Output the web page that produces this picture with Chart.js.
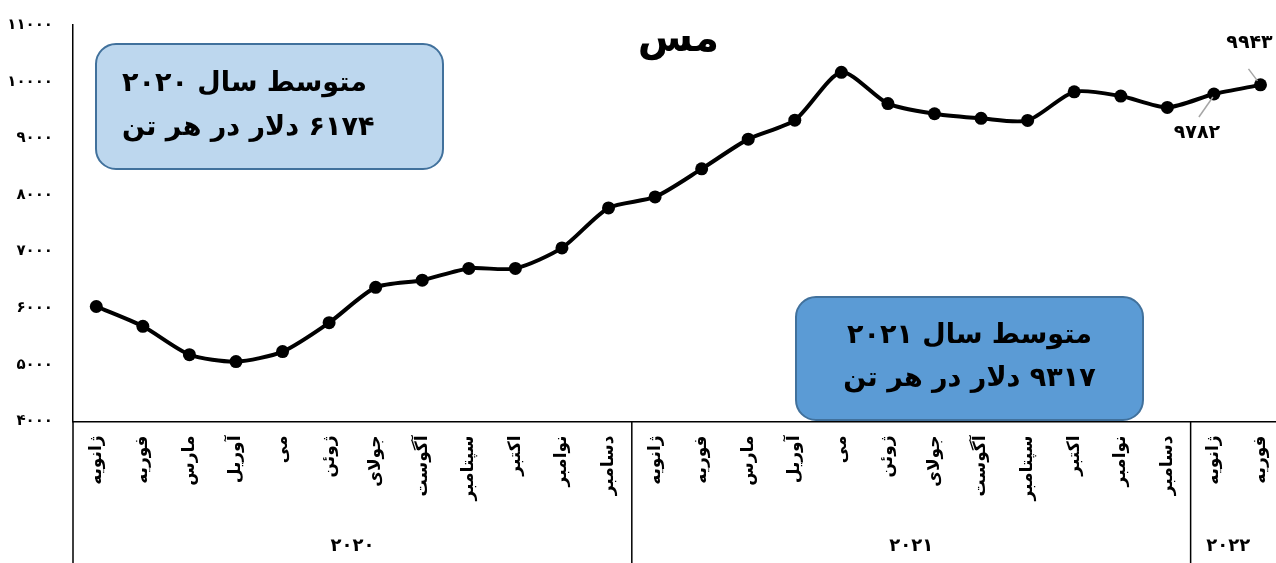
<!DOCTYPE html>
<html>
<head>
<meta charset="utf-8">
<script src="https://cdn.jsdelivr.net/npm/chart.js@4.4.1/dist/chart.umd.min.js"></script>
<style>
  html, body { margin: 0; padding: 0; background: #fff; overflow: hidden; }
  #wrap { width: 1295px; height: 563px; }
</style>
</head>
<body>
<div id="wrap"><canvas id="copperChart" width="1295" height="563"></canvas></div>
<script>
// ماه ها (از ژانویه ۲۰۲۰ تا فوریه ۲۰۲۲)
const months = [
  'ژانویه', 'فوریه', 'مارس', 'آوریل', 'می', 'ژوئن', 'جولای', 'آگوست', 'سپتامبر', 'اکتبر', 'نوامبر', 'دسامبر',
  'ژانویه', 'فوریه', 'مارس', 'آوریل', 'می', 'ژوئن', 'جولای', 'آگوست', 'سپتامبر', 'اکتبر', 'نوامبر', 'دسامبر',
  'ژانویه', 'فوریه'
];
const years = ['۲۰۲۰', '۲۰۲۱', '۲۰۲۲'];
const monthsPerYear = [12, 12, 2];

// قیمت مس (دلار در هر تن)
const copperPrice = [
  6030, 5680, 5180, 5058, 5235, 5745, 6368, 6495, 6703, 6703, 7065, 7770,
  7965, 8460, 8985, 9320, 10165, 9612, 9433, 9352, 9315, 9820, 9745, 9545,
  9782, 9943
];

const yTicks = [4000, 5000, 6000, 7000, 8000, 9000, 10000, 11000];
const chartTitle = 'مس';
const labelledPoints = [24, 25]; // نقاط دارای برچسب مقدار

const avgBoxes = [
  { lines: ['متوسط سال ۲۰۲۰', '۶۱۷۴ دلار در هر تن'], fill: '#BDD7EE' },
  { lines: ['متوسط سال ۲۰۲۱', '۹۳۱۷ دلار در هر تن'], fill: '#5B9BD5' }
];

const FONT = '"DejaVu Sans", sans-serif';
const toFa = (v) => String(v).replace(/\d/g, d => '۰۱۲۳۴۵۶۷۸۹'[d]);

function roundRect(ctx, x, y, w, h, r) {
  ctx.beginPath();
  ctx.moveTo(x + r, y);
  ctx.arcTo(x + w, y, x + w, y + h, r);
  ctx.arcTo(x + w, y + h, x, y + h, r);
  ctx.arcTo(x, y + h, x, y, r);
  ctx.arcTo(x, y, x + w, y, r);
  ctx.closePath();
}

// خطوط جداکننده سال ها، برچسب سال ها، عنوان، کادرها و برچسب مقادیر
const extrasPlugin = {
  id: 'extras',
  afterDraw(chart) {
    const ctx = chart.ctx;
    const area = chart.chartArea;
    const xs = chart.scales.x;
    const H = chart.height;
    ctx.save();

    // جدول محور افقی
    ctx.strokeStyle = '#000';
    ctx.lineWidth = 1.5;
    ctx.beginPath();
    ctx.moveTo(area.left, area.bottom);
    ctx.lineTo(area.left, H);
    let start = 0;
    const bounds = [];
    monthsPerYear.forEach((n) => {
      const end = start + n;
      const x0 = start === 0 ? area.left : (xs.getPixelForValue(start - 1) + xs.getPixelForValue(start)) / 2;
      const x1 = end >= months.length ? area.right : (xs.getPixelForValue(end - 1) + xs.getPixelForValue(end)) / 2;
      bounds.push([x0, x1]);
      if (end < months.length) {
        ctx.moveTo(x1, area.bottom);
        ctx.lineTo(x1, H);
      }
      start = end;
    });
    ctx.stroke();

    ctx.fillStyle = '#000';
    ctx.font = 'bold 18px ' + FONT;
    ctx.textAlign = 'center';
    ctx.textBaseline = 'middle';
    years.forEach((y, i) => {
      ctx.fillText(y, (bounds[i][0] + bounds[i][1]) / 2 - (i === 2 ? 9 : 0), 546);
    });

    // عنوان
    ctx.font = 'bold 40px ' + FONT;
    ctx.fillText(chartTitle, (area.left + area.right) / 2, 41);

    // کادرهای متوسط سالانه
    const geo = [
      { x: 96, y: 44, w: 347, h: 125, align: 'left', tx: 122 },
      { x: 796, y: 297, w: 347, h: 123, align: 'center', tx: 969.5 }
    ];
    avgBoxes.forEach((b, i) => {
      const g = geo[i];
      roundRect(ctx, g.x, g.y, g.w, g.h, 20);
      ctx.fillStyle = b.fill;
      ctx.fill();
      ctx.strokeStyle = '#41719C';
      ctx.lineWidth = 2;
      ctx.stroke();
      ctx.fillStyle = '#000';
      ctx.font = 'bold 27px ' + FONT;
      ctx.direction = 'rtl';
      ctx.textAlign = g.align;
      ctx.fillText(b.lines[0], g.tx, g.y + g.h * 0.32);
      ctx.fillText(b.lines[1], g.tx, g.y + g.h * 0.67);
      ctx.direction = 'ltr';
    });

    // برچسب مقدار دو نقطه آخر
    const meta = chart.getDatasetMeta(0);
    ctx.font = 'bold 19px ' + FONT;
    ctx.textAlign = 'center';
    ctx.strokeStyle = '#A6A6A6';
    ctx.lineWidth = 1.5;
    const p1 = meta.data[labelledPoints[0]];
    ctx.beginPath();
    ctx.moveTo(p1.x - 1, p1.y + 3);
    ctx.lineTo(p1.x - 15, p1.y + 23);
    ctx.stroke();
    ctx.fillText(toFa(copperPrice[labelledPoints[0]]), p1.x - 17, p1.y + 39);
    const p2 = meta.data[labelledPoints[1]];
    ctx.beginPath();
    ctx.moveTo(p2.x - 3, p2.y - 4);
    ctx.lineTo(p2.x - 12, p2.y - 16);
    ctx.stroke();
    ctx.fillText(toFa(copperPrice[labelledPoints[1]]), p2.x - 11, p2.y - 42);

    ctx.restore();
  }
};

const ctx = document.getElementById('copperChart').getContext('2d');
new Chart(ctx, {
  type: 'line',
  data: {
    labels: months,
    datasets: [{
      data: copperPrice,
      borderColor: '#000',
      backgroundColor: '#000',
      borderWidth: 4,
      tension: 0.25,
      pointRadius: 6.5,
      pointBackgroundColor: '#000',
      pointBorderWidth: 0,
      fill: false
    }]
  },
  options: {
    responsive: false,
    animation: false,
    layout: { padding: { top: 25, right: 0, bottom: 0, left: 0 } },
    plugins: {
      legend: { display: false },
      title: { display: false },
      tooltip: { enabled: false }
    },
    scales: {
      x: {
        offset: true,
        grid: { display: false, drawTicks: false },
        border: { display: true, color: '#000', width: 1.5 },
        ticks: {
          autoSkip: false,
          minRotation: 90,
          maxRotation: 90,
          padding: 14,
          color: '#000',
          font: { family: FONT, size: 17, weight: 'bold' }
        },
        afterFit(scale) { scale.height = 141.5; }
      },
      y: {
        min: 4000,
        max: 11000,
        afterBuildTicks(scale) { scale.ticks = yTicks.map(v => ({ value: v })); },
        grid: { display: false, drawTicks: true, tickLength: 20 },
        border: { display: true, color: '#000', width: 1.5 },
        ticks: {
          padding: 0,
          color: '#000',
          font: { family: FONT, size: 15, weight: 'bold' },
          callback: (v) => toFa(v)
        },
        afterFit(scale) { scale.width = 73; }
      }
    }
  },
  plugins: [extrasPlugin]
});
</script>
</body>
</html>
